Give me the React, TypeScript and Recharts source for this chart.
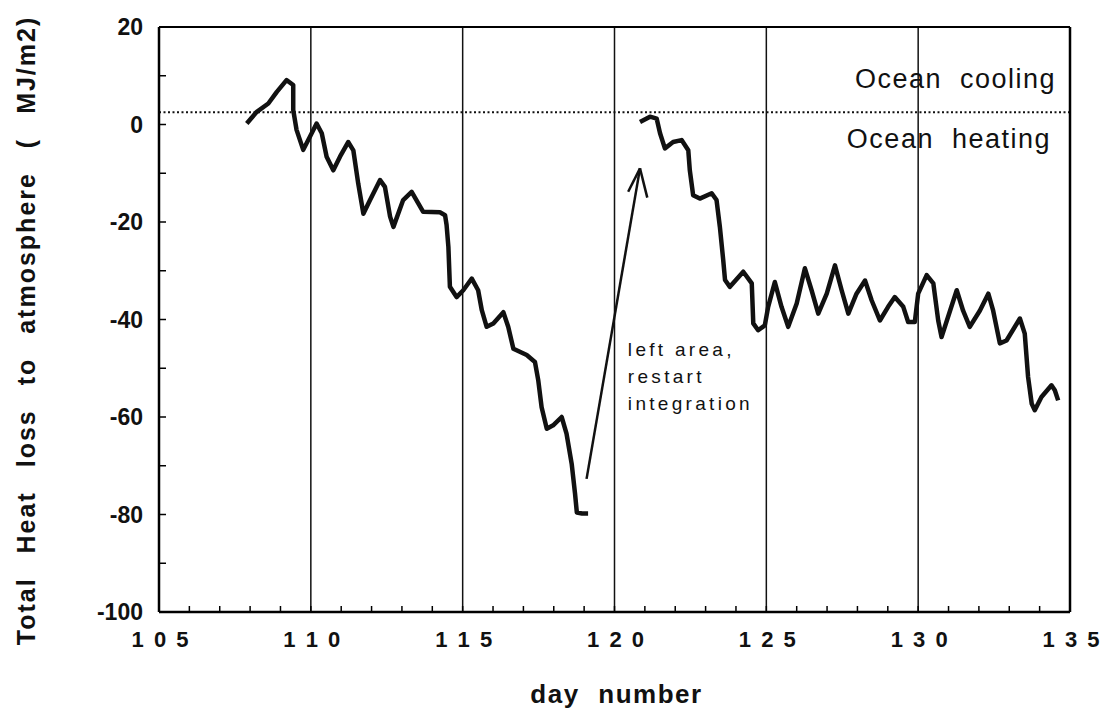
import { LineChart, Line, XAxis, YAxis, ReferenceLine, ReferenceDot } from 'recharts';

// first integration run (day number, MJ/m2)
const firstRunDays = [
  107.89, 108.22, 108.6, 108.88, 109.2, 109.42, 109.42, 109.53, 109.75, 109.97,
  110.19, 110.36, 110.52, 110.74, 110.96, 111.23, 111.4, 111.56, 111.73, 111.95,
  112.28, 112.44, 112.61, 112.72, 113.04, 113.32, 113.7, 114.25, 114.42, 114.47,
  114.53, 114.58, 114.8, 115.02, 115.3, 115.51, 115.63, 115.79, 116.01, 116.34,
  116.5, 116.67, 117.11, 117.38, 117.49, 117.6, 117.77, 117.98, 118.26, 118.42,
  118.59, 118.7, 118.76, 118.93, 119.13,
];
const firstRunHeat = [
  0.2, 2.6, 4.3, 6.7, 9.1, 8.1, 3.0, -1.1, -5.2, -2.5,
  0.2, -1.8, -6.6, -9.4, -6.6, -3.6, -5.3, -12.1, -18.3, -15.5,
  -11.4, -12.8, -18.9, -21.0, -15.5, -13.8, -17.9, -18.0, -18.6, -20.6,
  -25.1, -33.3, -35.4, -34.0, -31.6, -34.0, -38.1, -41.5, -40.8, -38.5,
  -41.5, -46.0, -47.3, -48.7, -52.5, -58.0, -62.4, -61.7, -60.0, -63.4,
  -69.6, -75.7, -79.6, -79.8, -79.8,
];

// second run, restarted after leaving the area
const secondRunDays = [
  120.84, 121.17, 121.39, 121.5, 121.66, 121.93, 122.21, 122.43, 122.48, 122.59,
  122.81, 123.2, 123.36, 123.47, 123.58, 123.64, 123.8, 124.24, 124.52, 124.57,
  124.73, 124.95, 125.06, 125.28, 125.5, 125.72, 126.0, 126.27, 126.49, 126.71,
  126.99, 127.26, 127.48, 127.7, 127.97, 128.25, 128.47, 128.74, 129.01, 129.23,
  129.51, 129.67, 129.89, 130.0, 130.28, 130.5, 130.66, 130.77, 131.05, 131.27,
  131.48, 131.7, 132.03, 132.31, 132.47, 132.69, 132.91, 133.35, 133.51, 133.62,
  133.74, 133.84, 134.06, 134.39, 134.5, 134.61,
];
const secondRunHeat = [
  0.5, 1.6, 1.2, -1.8, -4.9, -3.6, -3.2, -5.3, -9.4, -14.5,
  -15.2, -14.1, -15.5, -21.0, -27.8, -31.9, -33.3, -30.2, -32.6, -40.8,
  -42.2, -41.2, -37.4, -32.3, -37.4, -41.5, -36.7, -29.5, -34.0, -38.8,
  -34.7, -28.9, -34.0, -38.8, -34.7, -32.0, -36.1, -40.2, -37.4, -35.4,
  -37.4, -40.5, -40.5, -34.7, -30.9, -32.6, -40.2, -43.6, -38.2, -34.0,
  -38.2, -41.5, -38.2, -34.7, -38.2, -44.9, -44.3, -39.8, -42.9, -51.8,
  -57.3, -58.6, -55.9, -53.5, -54.5, -56.6,
];

const dayTicks = [
  105, 106, 107, 108, 109, 110, 111, 112, 113, 114, 115, 116, 117, 118, 119, 120,
  121, 122, 123, 124, 125, 126, 127, 128, 129, 130, 131, 132, 133, 134, 135,
];
const dayLabels = [105, 110, 115, 120, 125, 130, 135];
const dayLines = [110, 115, 120, 125, 130];
const heatTicks = [-100, -90, -80, -70, -60, -50, -40, -30, -20, -10, 0, 10, 20];
const heatLabels = [-100, -80, -60, -40, -20, 0, 20];
const balanceLevel = 2.5;

// arrow from the end of run 1 to the restart point
const arrowTail = { x: 119.08, y: -72.7 };
const arrowTip = { x: 120.84, y: -9.0 };
const arrowHeadLeft = { x: 120.45, y: -13.8 };
const arrowHeadRight = { x: 121.08, y: -15.0 };
const noteAnchor = { x: 120.44, y: -47.5 };
const noteLines = ['left area,', 'restart', 'integration'];

const firstRun = firstRunDays.map((day, i) => ({ day, heat: firstRunHeat[i] }));
const secondRun = secondRunDays.map((day, i) => ({ day, heat: secondRunHeat[i] }));

const FONT = "'Liberation Sans', Arial, Helvetica, sans-serif";

// day labels are typeset with a gap between the digits: "1 0 5"
const spaced = (v: number) => String(v).split('').join(' ');

const BottomTick = (props: any) => {
  const { x, y, payload } = props;
  return (
    <g>
      <line x1={x} y1={y} x2={x} y2={y - 6} stroke="#000" strokeWidth={1.5} />
      {dayLabels.includes(payload.value) && (
        <text x={x + 2} y={y + 35} textAnchor="middle" fontFamily={FONT} fontSize={22}
          fontWeight="bold" letterSpacing={2} fill="#111" style={{ whiteSpace: 'pre' }}>
          {spaced(payload.value)}
        </text>
      )}
    </g>
  );
};

const TopTick = (props: any) => {
  const { x, y } = props;
  return <line x1={x} y1={y} x2={x} y2={y + 6} stroke="#000" strokeWidth={1.5} />;
};

const LeftTick = (props: any) => {
  const { x, y, payload } = props;
  return (
    <g>
      <line x1={x} y1={y} x2={x + 7} y2={y} stroke="#000" strokeWidth={1.5} />
      {heatLabels.includes(payload.value) && (
        <text x={x - 16} y={y + 8} textAnchor="end" fontFamily={FONT} fontSize={23}
          fontWeight="bold" fill="#111">
          {payload.value}
        </text>
      )}
    </g>
  );
};

const RightTick = (props: any) => {
  const { x, y } = props;
  return <line x1={x} y1={y} x2={x - 7} y2={y} stroke="#000" strokeWidth={1.5} />;
};

const oceanLabels = (props: any) => {
  const { viewBox } = props;
  const right = viewBox.x + viewBox.width;
  return (
    <g fontFamily={FONT} fontSize={27} fill="#111" letterSpacing={1.5} wordSpacing={9}>
      <text x={right - 14} y={viewBox.y - 24} textAnchor="end">Ocean cooling</text>
      <text x={right - 19} y={viewBox.y + 36} textAnchor="end">Ocean heating</text>
    </g>
  );
};

const noteLabel = (props: any) => {
  const { viewBox } = props;
  return (
    <g fontFamily={FONT} fontSize={19} fill="#111" letterSpacing={3.3}>
      {noteLines.map((line, i) => (
        <text key={line} x={viewBox.x} y={viewBox.y + i * 27}>{line}</text>
      ))}
    </g>
  );
};

const yTitle = (props: any) => {
  const { viewBox } = props;
  const cx = 35;
  const cy = viewBox.y + viewBox.height / 2 + 11;
  return (
    <text x={cx} y={cy} transform={`rotate(-90, ${cx}, ${cy})`} textAnchor="middle"
      fontFamily={FONT} fontSize={25} fontWeight="bold" letterSpacing={2} wordSpacing={15}
      fill="#111">
      Total Heat loss to atmosphere ( MJ/m2)
    </text>
  );
};

const xTitle = (props: any) => {
  const { viewBox } = props;
  return (
    <text x={viewBox.x + viewBox.width / 2 + 2} y={703} textAnchor="middle"
      fontFamily={FONT} fontSize={26} fontWeight="bold" letterSpacing={1.5} wordSpacing={10}
      fill="#111">
      day number
    </text>
  );
};

export default function App() {
  return (
    <div style={{ position: 'absolute', left: 0, top: 0, width: 1104, height: 712, background: '#fff' }}>
      <LineChart width={1104} height={712} margin={{ top: 25, right: 32, bottom: 0, left: 0 }}>
        <XAxis dataKey="day" type="number" domain={[105, 135]} ticks={dayTicks} interval={0}
          height={100} tickSize={0} tickMargin={0} tickLine={false} tick={BottomTick}
          axisLine={{ stroke: '#000', strokeWidth: 2.5 }} label={xTitle} allowDataOverflow />
        <XAxis xAxisId="top" orientation="top" type="number" domain={[105, 135]} ticks={dayTicks}
          interval={0} height={2} tickSize={0} tickMargin={0} tickLine={false} tick={TopTick}
          axisLine={{ stroke: '#000', strokeWidth: 2 }} />
        <YAxis type="number" domain={[-100, 20]} ticks={heatTicks} interval={0} width={159}
          tickSize={0} tickMargin={0} tickLine={false} tick={LeftTick}
          axisLine={{ stroke: '#000', strokeWidth: 2.5 }} label={yTitle} allowDataOverflow />
        <YAxis yAxisId="right" orientation="right" type="number" domain={[-100, 20]}
          ticks={heatTicks} interval={0} width={2} tickSize={0} tickMargin={0} tickLine={false}
          tick={RightTick} axisLine={{ stroke: '#000', strokeWidth: 2.5 }} />

        {dayLines.map((d) => (
          <ReferenceLine key={d} x={d} stroke="#111" strokeWidth={1.5} />
        ))}
        <ReferenceLine y={balanceLevel} stroke="#111" strokeWidth={2} strokeDasharray="2 2.5"
          label={oceanLabels} />

        <ReferenceLine segment={[arrowTail, arrowTip]} stroke="#111" strokeWidth={2.5} />
        <ReferenceLine segment={[arrowHeadLeft, arrowTip]} stroke="#111" strokeWidth={2.5} />
        <ReferenceLine segment={[arrowHeadRight, arrowTip]} stroke="#111" strokeWidth={2.5} />
        <ReferenceDot x={noteAnchor.x} y={noteAnchor.y} r={0} fill="none" stroke="none"
          label={noteLabel} />

        <Line data={firstRun} dataKey="heat" type="linear" stroke="#111" strokeWidth={4.5}
          strokeLinejoin="round" dot={false} isAnimationActive={false} />
        <Line data={secondRun} dataKey="heat" type="linear" stroke="#111" strokeWidth={4.5}
          strokeLinejoin="round" dot={false} isAnimationActive={false} />
      </LineChart>
    </div>
  );
}
